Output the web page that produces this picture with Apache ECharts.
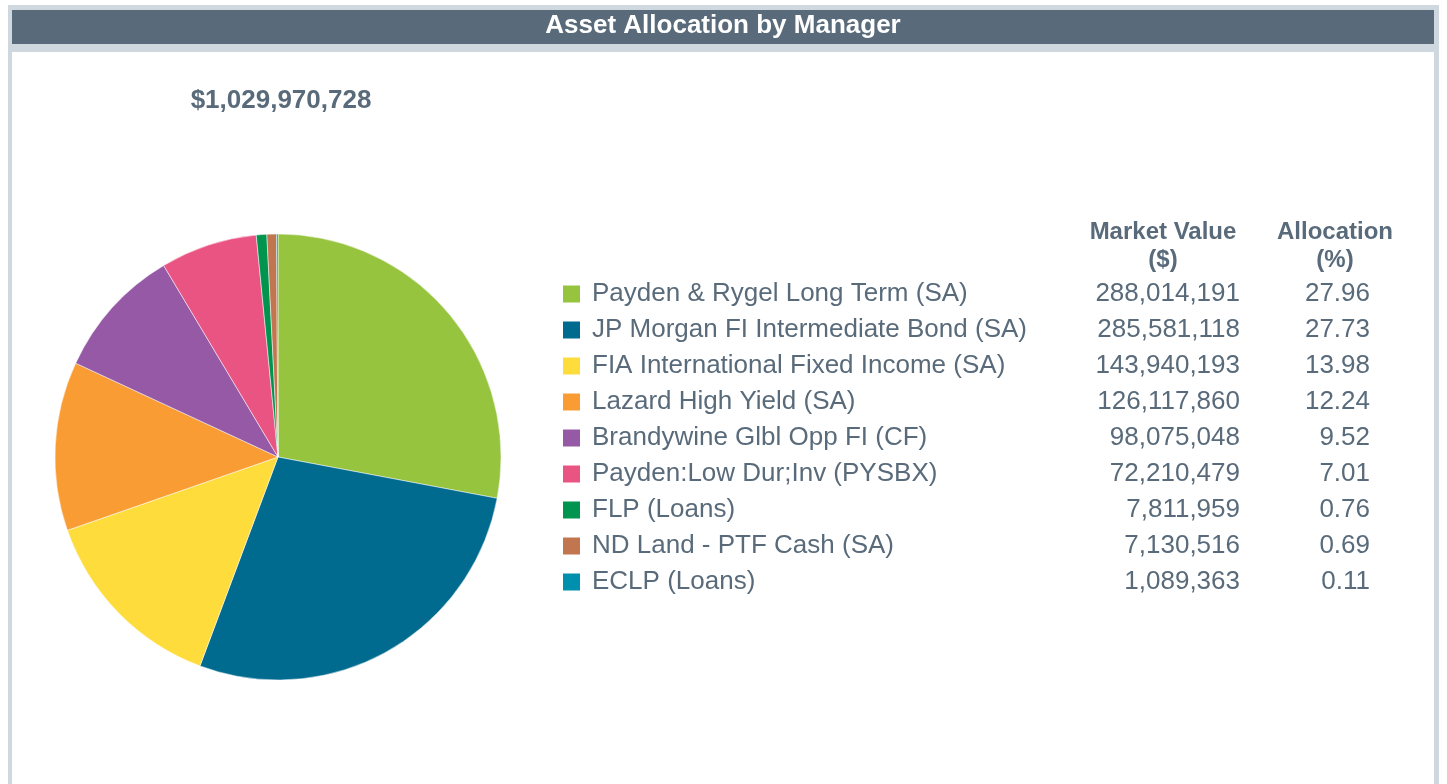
<!DOCTYPE html>
<html>
<head>
<meta charset="utf-8">
<script src="https://cdn.jsdelivr.net/npm/echarts@6/dist/echarts.min.js"></script>
<style>
  html, body { margin: 0; padding: 0; background: #fff; }
  #main { width: 1447px; height: 784px; }
</style>
</head>
<body>
<div id="main"></div>
<script>
// data
var managers = [
  'Payden & Rygel Long Term (SA)',
  'JP Morgan FI Intermediate Bond (SA)',
  'FIA International Fixed Income (SA)',
  'Lazard High Yield (SA)',
  'Brandywine Glbl Opp FI (CF)',
  'Payden:Low Dur;Inv (PYSBX)',
  'FLP (Loans)',
  'ND Land - PTF Cash (SA)',
  'ECLP (Loans)'
];
var marketValues = [288014191, 285581118, 143940193, 126117860, 98075048, 72210479, 7811959, 7130516, 1089363];
var allocations = ['27.96', '27.73', '13.98', '12.24', '9.52', '7.01', '0.76', '0.69', '0.11'];
var colors = ['#96c43e', '#006a8f', '#fddc3b', '#f99c33', '#9659a6', '#ea5483', '#00944f', '#c27650', '#0090ae'];
var totalLabel = '$1,029,970,728';

var textColor = '#596b7a';
var frameColor = '#cfd7df';
var font = '"Liberation Sans", Arial, sans-serif';

function fmt(n) {
  return n.toString().replace(/\B(?=(\d{3})+(?!\d))/g, ',');
}

var pieData = managers.map(function (m, i) {
  return { name: m, value: marketValues[i], itemStyle: { color: colors[i] } };
});

var chart = echarts.init(document.getElementById('main'));

var option = {
  animation: false,
  backgroundColor: '#fff',
  textStyle: { fontFamily: font },
  graphic: [
    // frame
    { type: 'rect', shape: { x: 8, y: 5, width: 1431, height: 5 }, style: { fill: frameColor } },
    { type: 'rect', shape: { x: 8, y: 5, width: 4, height: 779 }, style: { fill: frameColor } },
    { type: 'rect', shape: { x: 1434, y: 5, width: 5, height: 779 }, style: { fill: frameColor } },
    { type: 'rect', shape: { x: 8, y: 44, width: 1431, height: 8 }, style: { fill: frameColor } },
    { type: 'rect', shape: { x: 12, y: 10, width: 1422, height: 34 }, style: { fill: '#596b7a' } },
    {
      type: 'text', x: 723, y: 26,
      style: { text: 'Asset Allocation by Manager', fill: '#fff', font: 'bold 26px ' + font, textAlign: 'center', textVerticalAlign: 'middle' }
    },
    {
      type: 'text', x: 281, y: 101,
      style: { text: totalLabel, fill: textColor, font: 'bold 26px ' + font, textAlign: 'center', textVerticalAlign: 'middle' }
    },
    {
      type: 'text', x: 1163, y: 246,
      style: { text: 'Market Value\n($)', fill: textColor, font: 'bold 24px ' + font, lineHeight: 28, textAlign: 'center', textVerticalAlign: 'middle' }
    },
    {
      type: 'text', x: 1335, y: 246,
      style: { text: 'Allocation\n(%)', fill: textColor, font: 'bold 24px ' + font, lineHeight: 28, textAlign: 'center', textVerticalAlign: 'middle' }
    }
  ],
  legend: {
    orient: 'vertical',
    left: 556,
    top: 276,
    icon: 'rect',
    itemWidth: 19,
    itemHeight: 19,
    itemGap: 10,
    selectedMode: false,
    data: managers,
    formatter: function (name) {
      var i = managers.indexOf(name);
      return '{n|' + name + '}{mv|' + fmt(marketValues[i]) + '}{pc|' + allocations[i] + '}';
    },
    textStyle: {
      color: textColor,
      fontFamily: font,
      fontSize: 26,
      lineHeight: 26,
      rich: {
        n: { width: 481, fontSize: 26, color: textColor, padding: [0, 0, 0, 6] },
        mv: { width: 167, align: 'right', fontSize: 26, color: textColor },
        pc: { width: 130, align: 'right', fontSize: 26, color: textColor }
      }
    }
  },
  series: [{
    type: 'pie',
    center: [278, 457],
    radius: 223,
    startAngle: 90,
    clockwise: true,
    label: { show: false },
    labelLine: { show: false },
    emphasis: { disabled: true },
    itemStyle: { borderColor: '#fff', borderWidth: 0.5 },
    data: pieData
  }]
};

chart.setOption(option);
</script>
</body>
</html>
